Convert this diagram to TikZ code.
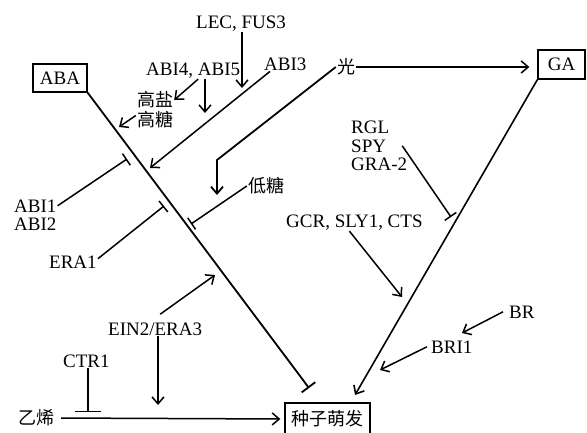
\documentclass[tikz,border=0pt]{standalone}
\usepackage{fontspec}
\setmainfont{Liberation Serif}
\newfontfamily\cjk{Noto Sans CJK SC}
\usetikzlibrary{arrows.meta, positioning}

\begin{document}
\begin{tikzpicture}[
    x=1pt, y=-1pt,
    lbl/.style={font=\fontsize{19}{19}\selectfont, inner sep=1pt, anchor=base west},
    zh/.style={font=\fontsize{18}{18}\selectfont\cjk, inner sep=1pt},
    box/.style={draw, line width=1.3pt, inner sep=2pt},
    arrow/.style={-{Straight Barb[length=7pt, width=12pt]}, line width=1.5pt},
    block/.style={-{Bar[width=14pt]}, line width=1.5pt}
]
    \useasboundingbox (0,0) rectangle (587,432);

    % Hormones and germination
    \node[box, lbl, anchor=center, minimum width=54pt, minimum height=28pt] (aba) at (60,78) {ABA};
    \node[box, lbl, anchor=center, minimum width=47pt, minimum height=29pt] (ga) at (561.5,64.5) {GA};
    \node[box, zh, minimum width=85pt, minimum height=32pt] (seed) at (327.5,419) {种子萌发};

    % ABA side labels
    \node[lbl] (lec) at (195,28) {LEC, FUS3};
    \node[lbl] (abi45) at (145,75) {ABI4, ABI5};
    \node[lbl] (abi3) at (263,70) {ABI3};
    \node[zh] (gaoyan) at (155,100) {高盐};
    \node[zh] (gaotang) at (155,119.5) {高糖};
    \node[lbl] (abi1) at (13,212) {ABI1};
    \node[lbl] (abi2) at (13,230) {ABI2};
    \node[lbl] (era1) at (48,268) {ERA1};
    \node[zh] (ditang) at (266,186) {低糖};
    \node[zh] (light) at (346,67) {光};

    % GA side labels
    \node[lbl] (rgl) at (350,133) {RGL};
    \node[lbl] (spy) at (350,152) {SPY};
    \node[lbl] (gra2) at (350,170) {GRA-2};
    \node[lbl] (gcr) at (285,227) {GCR, SLY1, CTS};
    \node[lbl] (br) at (508,318) {BR};
    \node[lbl] (bri1) at (430,353) {BRI1};

    % Ethylene labels
    \node[lbl] (ein) at (107,335) {EIN2/ERA3};
    \node[lbl] (ctr) at (62,367) {CTR1};
    \node[zh] (yixi) at (36,418) {乙烯};

    % End points on the two main lines
    \coordinate (abaend) at (309,388);
    \coordinate (gaend) at (355,395);
    \coordinate (abi1end) at (127,159);
    \coordinate (era1end) at (164,206);
    \coordinate (ditangend) at (191,224);
    \coordinate (abi3tip) at (150,168);
    \coordinate (gttip) at (119,127);
    \coordinate (lectip) at (242,88);
    \coordinate (abitip) at (205,113);
    \coordinate (lbend) at (217,160);
    \coordinate (lowtip) at (217,195);
    \coordinate (eintip) at (215,275);
    \coordinate (eindown) at (158,405);
    \coordinate (ctrend) at (88,412);
    \coordinate (rglend) at (451,217);
    \coordinate (gcrtip) at (402,297);
    \coordinate (brtip) at (462,333);
    \coordinate (bri1tip) at (380,370);

    % Main lines
    \draw[line width=1.8pt, -{Bar[width=17pt]}] (aba.south east) -- (abaend);
    \draw[arrow, line width=1.6pt] (ga.south west) -- (gaend);
    \draw[arrow, shorten >=8pt] (light.east) -- (light.east -| ga.west);
    \draw[arrow, shorten <=6pt, shorten >=4pt] (yixi.east) -- (seed.west);

    % ABA regulators
    \draw[arrow] (lec.south -| lectip) -- (lectip);
    \draw[arrow] ([xshift=5pt]abi45.south) -- (gaoyan.east);
    \draw[arrow] (abi45.south -| abitip) -- (abitip);
    \draw[arrow] ([yshift=4pt]gaotang.west) -- (gttip);
    \draw[arrow] ([xshift=7pt]abi3.south west) -- (abi3tip);
    \draw[block] (abi1.east) -- (abi1end);
    \draw[block] ([yshift=3pt]era1.east) -- (era1end);
    \draw[block] (ditang.west) -- (ditangend);
    \draw[arrow, line width=1.8pt] (light.west) -- (lbend) -- (lowtip);

    % GA regulators
    \draw[block] ([xshift=15pt]spy.east) -- (rglend);
    \draw[arrow] ([xshift=-5pt]gcr.south) -- (gcrtip);
    \draw[arrow] ([xshift=-5pt]br.west) -- (brtip);
    \draw[arrow] ([xshift=-3pt]bri1.west) -- (bri1tip);

    % Ethylene
    \draw[arrow] ([xshift=5pt, yshift=7pt]ein.north) -- (eintip);
    \draw[arrow] (ein.south -| eindown) -- (eindown);
    \draw[-{Bar[width=26pt]}, line width=1.5pt] (ctr.south -| ctrend) -- (ctrend);

\end{tikzpicture}
\end{document}
